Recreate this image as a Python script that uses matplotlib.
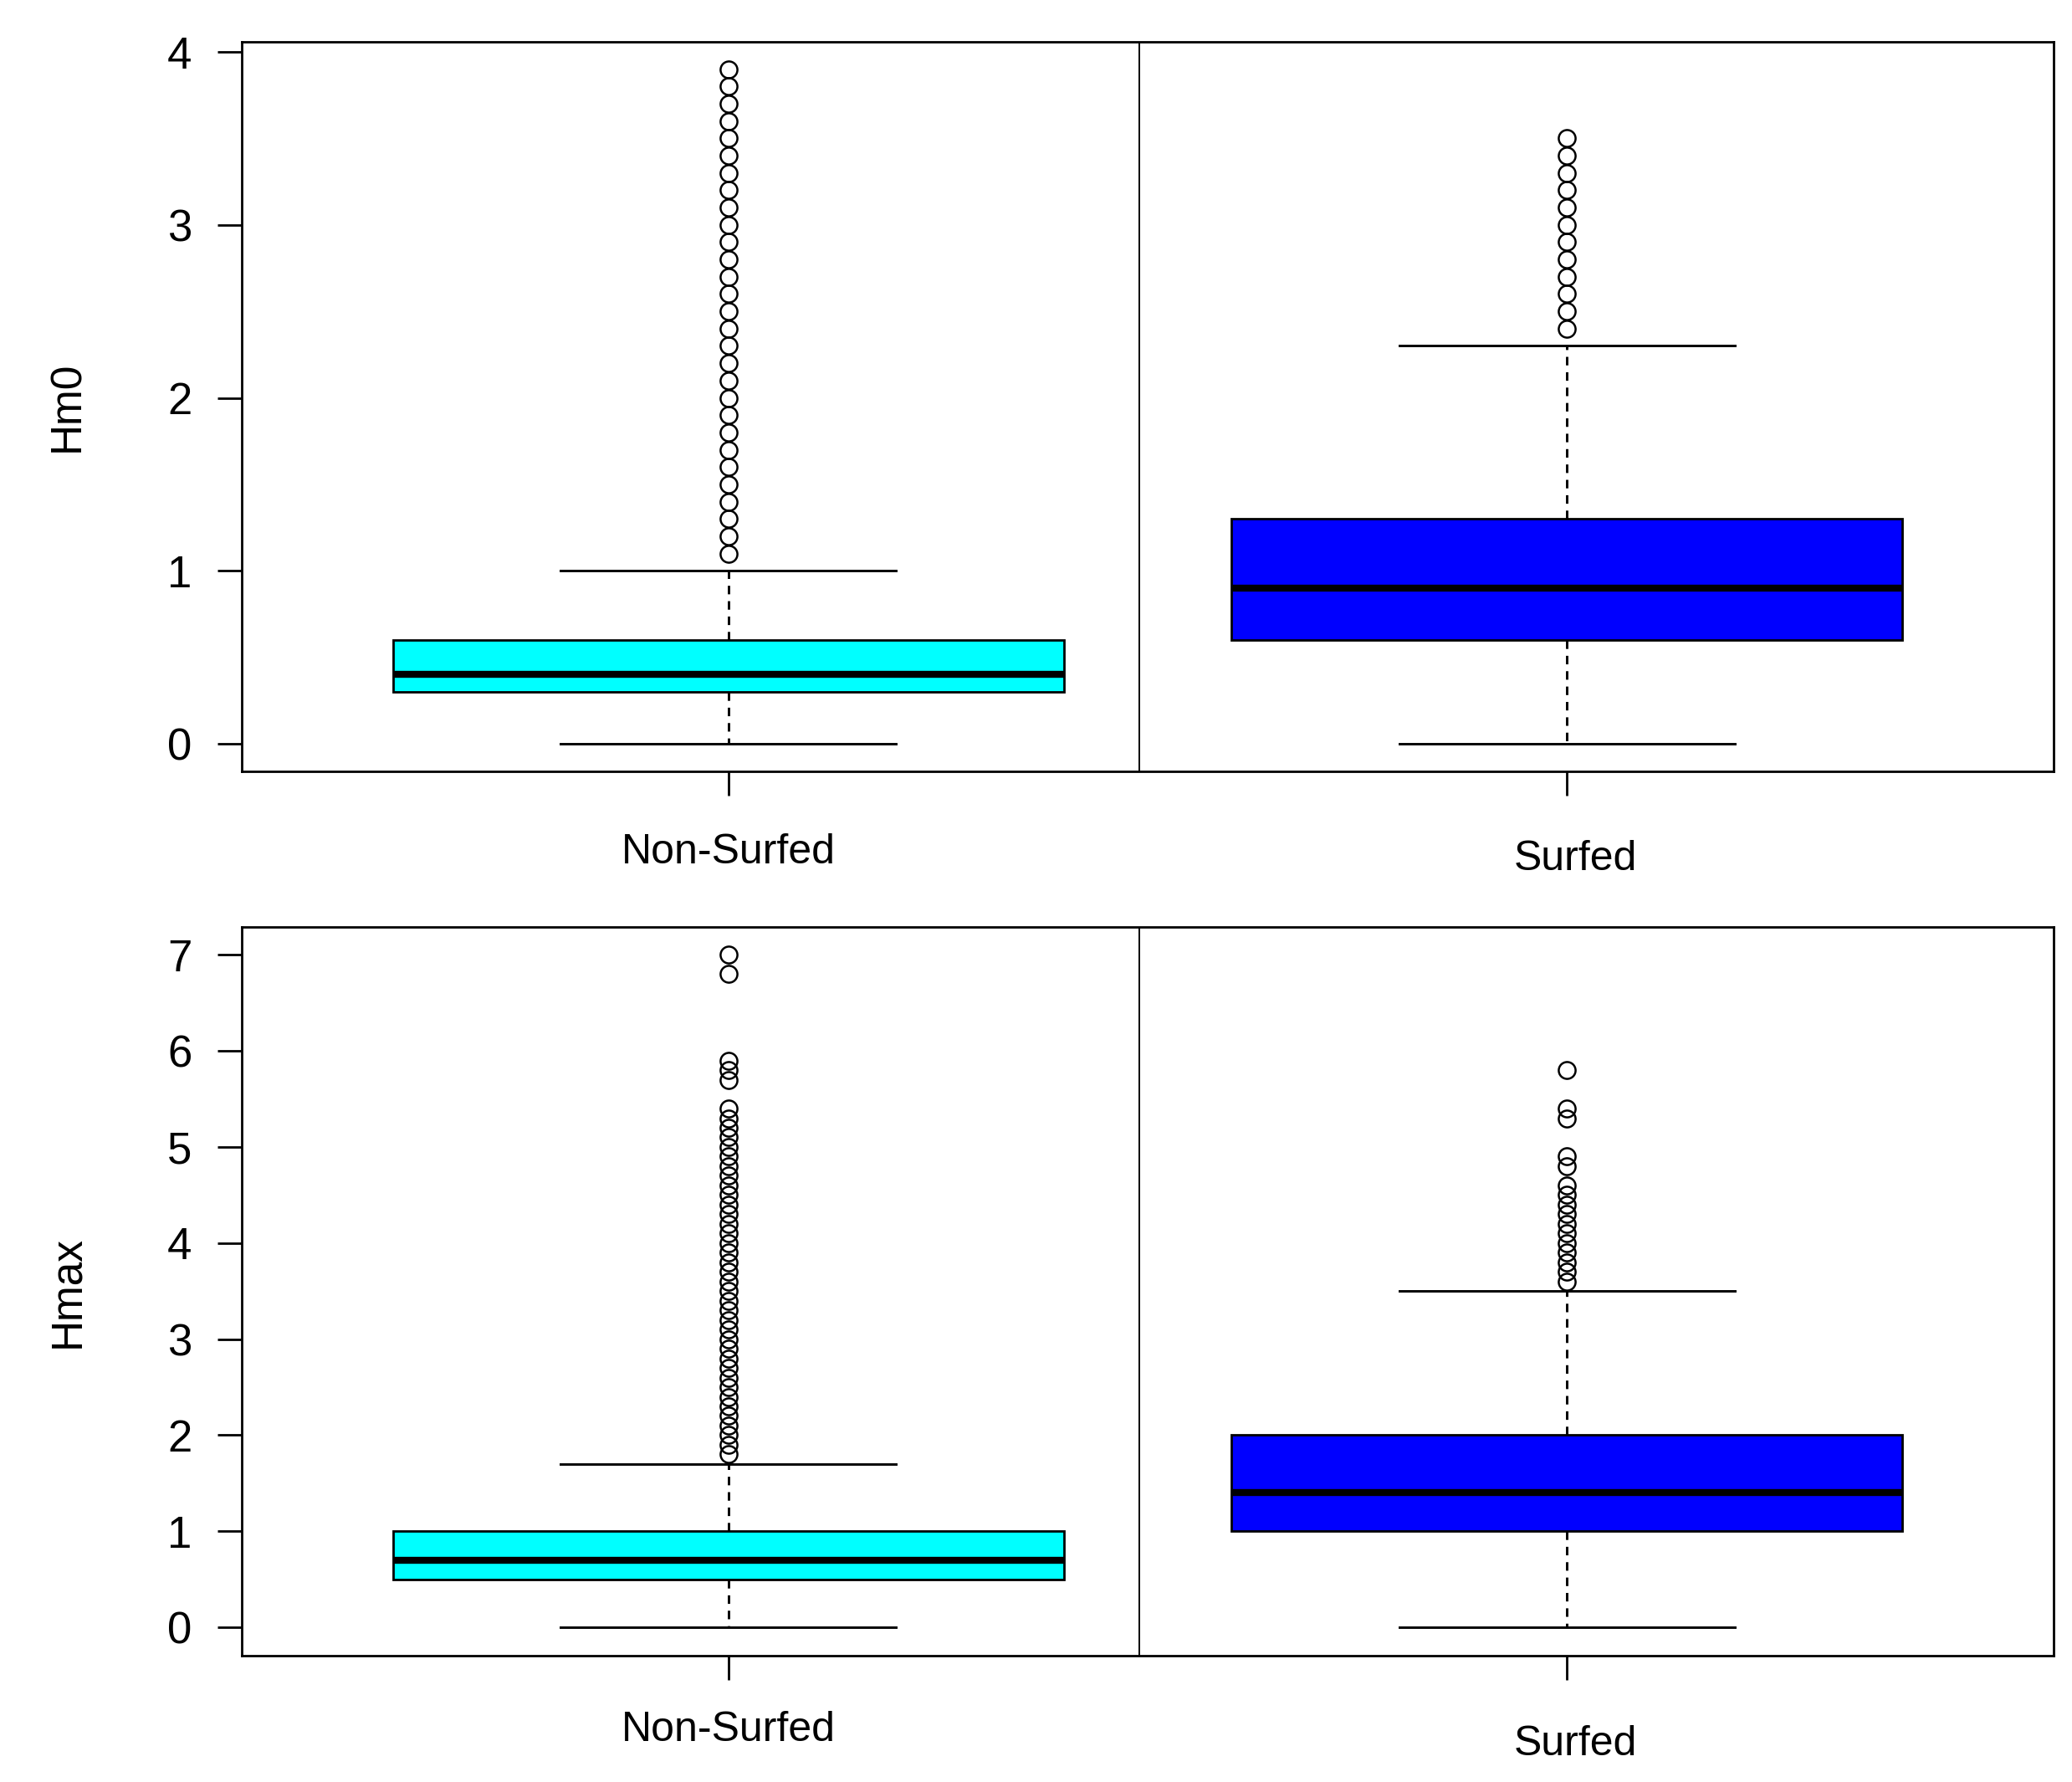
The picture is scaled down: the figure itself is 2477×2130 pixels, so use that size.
import matplotlib
matplotlib.use('Agg')
from matplotlib import pyplot as plt
from matplotlib import transforms

plt.rcParams['font.family'] = ['Liberation Sans', 'DejaVu Sans']

# summary values
groups = ['Non-Surfed', 'Surfed']
box_colors = ['#00FFFF', '#0000FF']

hm0_q1 = [0.3, 0.6]
hm0_med = [0.4, 0.9]
hm0_q3 = [0.6, 1.3]
hm0_lo = [0.0, 0.0]
hm0_hi = [1.0, 2.3]
hm0_out_non = [1.1, 1.2, 1.3, 1.4, 1.5, 1.6, 1.7, 1.8, 1.9, 2.0, 2.1, 2.2, 2.3, 2.4,
               2.5, 2.6, 2.7, 2.8, 2.9, 3.0, 3.1, 3.2, 3.3, 3.4, 3.5, 3.6, 3.7, 3.8, 3.9]
hm0_out_surf = [2.4, 2.5, 2.6, 2.7, 2.8, 2.9, 3.0, 3.1, 3.2, 3.3, 3.4, 3.5]

hmax_q1 = [0.5, 1.0]
hmax_med = [0.7, 1.4]
hmax_q3 = [1.0, 2.0]
hmax_lo = [0.0, 0.0]
hmax_hi = [1.7, 3.5]
hmax_out_non = [1.8, 1.9, 2.0, 2.1, 2.2, 2.3, 2.4, 2.5, 2.6, 2.7, 2.8, 2.9, 3.0, 3.1,
                3.2, 3.3, 3.4, 3.5, 3.6, 3.7, 3.8, 3.9, 4.0, 4.1, 4.2, 4.3, 4.4, 4.5,
                4.6, 4.7, 4.8, 4.9, 5.0, 5.1, 5.2, 5.3, 5.4, 5.7, 5.8, 5.9, 6.8, 7.0]
hmax_out_surf = [3.6, 3.7, 3.8, 3.9, 4.0, 4.1, 4.2, 4.3, 4.4, 4.5, 4.6, 4.8, 4.9,
                 5.3, 5.4, 5.8]

hm0_ticks = [0, 1, 2, 3, 4]
hmax_ticks = [0, 1, 2, 3, 4, 5, 6, 7]


def make_stats(q1, med, q3, lo, hi, fliers):
    stats = []
    for i in range(len(groups)):
        stats.append(dict(q1=q1[i], med=med[i], q3=q3[i], whislo=lo[i],
                          whishi=hi[i], fliers=fliers[i], label=groups[i]))
    return stats


def draw_panel(ax, stats, ylabel, yticks, ylim, label_offsets):
    bp = ax.bxp(stats, positions=[1, 2], widths=0.8, capwidths=0.4,
                patch_artist=True, showfliers=True,
                boxprops=dict(edgecolor='black', linewidth=2.0),
                medianprops=dict(color='black', linewidth=6.0, solid_capstyle='butt'),
                whiskerprops=dict(color='black', linewidth=2.1, linestyle=(0, (3.5, 2.8))),
                capprops=dict(color='black', linewidth=2.1),
                flierprops=dict(marker='o', markerfacecolor='none', markeredgecolor='black',
                                markersize=14.5, markeredgewidth=1.8, linestyle='none'))
    for patch, c in zip(bp['boxes'], box_colors):
        patch.set_facecolor(c)

    ax.axvline(1.49, color='black', linewidth=1.4)
    ax.set_xlim(0.42, 2.58)
    ax.set_ylim(*ylim)
    ax.set_yticks(yticks)
    ax.set_yticklabels([str(t) for t in yticks], fontsize=38)
    ax.set_xticks([1, 2])
    ax.set_xticklabels(['', ''])
    ax.tick_params(axis='both', length=21, width=2.0, color='black', pad=22)
    for s in ax.spines.values():
        s.set_linewidth(2.0)

    # category labels sit at slightly different heights in the original
    trans = transforms.blended_transform_factory(ax.transData, ax.transAxes)
    for i, name in enumerate(groups):
        dx, dy = label_offsets[i]
        ax.text(i + 1 + dx, dy, name, transform=trans, ha='center', va='baseline',
                fontsize=36)

    ax.text(-0.096, 0.5, ylabel, transform=ax.transAxes, rotation=90,
            ha='center', va='center', fontsize=37)


fig = plt.figure(figsize=(24.77, 21.30), dpi=100)
ax1 = fig.add_axes([0.1167, 0.5671, 0.8744, 0.4096])
ax2 = fig.add_axes([0.1167, 0.0709, 0.8744, 0.4089])

draw_panel(ax1, make_stats(hm0_q1, hm0_med, hm0_q3, hm0_lo, hm0_hi,
                           [hm0_out_non, hm0_out_surf]),
           'Hm0', hm0_ticks, (-0.16, 4.06), [(0.0, -0.126), (0.01, -0.135)])
draw_panel(ax2, make_stats(hmax_q1, hmax_med, hmax_q3, hmax_lo, hmax_hi,
                           [hmax_out_non, hmax_out_surf]),
           'Hmax', hmax_ticks, (-0.295, 7.29), [(0.0, -0.117), (0.01, -0.137)])

fig.savefig('out.png', dpi=100)
